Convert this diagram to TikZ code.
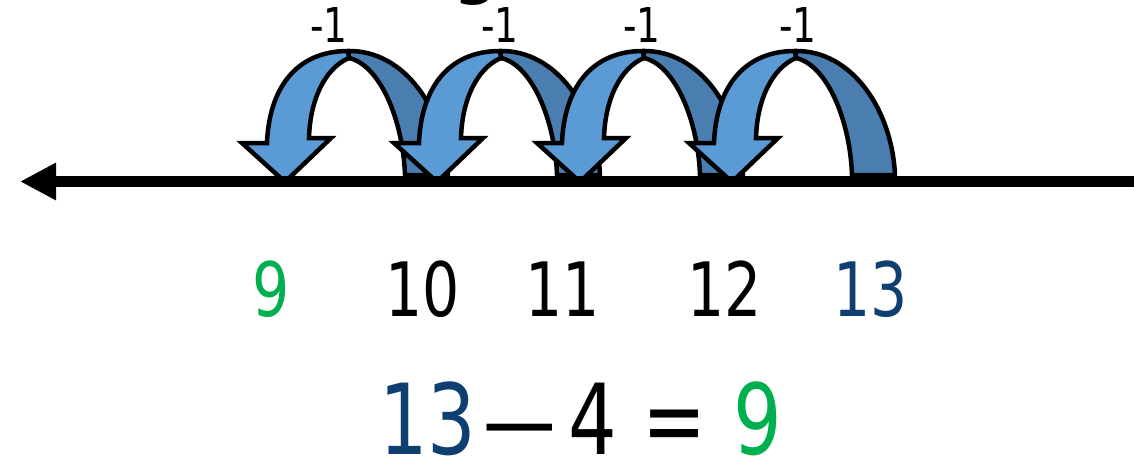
\documentclass[tikz,border=0pt]{standalone}
\usepackage{fontspec}
\setmainfont{DejaVu Sans}
\usetikzlibrary{arrows.meta}
\definecolor{jumplight}{HTML}{5B9BD5}
\definecolor{jumpdark}{HTML}{4A7EB0}
\definecolor{numgreen}{HTML}{00B050}
\definecolor{numblue}{HTML}{0F3F70}
\newcommand\narrowtxt[1]{\scalebox{0.78}[1]{#1}}
\tikzset{
  numline/.style={line width=11.5pt, -{Triangle[length=36pt,width=35pt]}},
  lightface/.style={fill=jumplight, draw=black, line width=4.5pt, line join=miter, miter limit=4},
  darkface/.style={fill=jumpdark, draw=black, line width=4.5pt, line join=round},
  jumplabel/.style={font=\fontsize{48}{48}\selectfont, anchor=base, inner sep=0pt},
  ticklabel/.style={font=\fontsize{75}{75}\selectfont, anchor=base, inner sep=0pt},
  eqlabel/.style={font=\fontsize{98}{98}\selectfont, anchor=base, inner sep=0pt},
}
\newcommand\jumparrow[2]{%
  \begin{scope}[shift={(#1,0)}]
    \coordinate (#2) at (0,182);
    \draw[darkface] (64,58) -- (63,51) .. controls (120,50) and (160,110) .. (163,175)
      -- (120,175) .. controls (118,120) and (95,65) .. (64,58) -- cycle;
    \draw[lightface] (#2) -- (-43,143) -- (-18,143) .. controls (-16,90) and (10,51) .. (63,51)
      -- (64,58) .. controls (40,68) and (25,100) .. (24,138) -- (46,138) -- cycle;
  \end{scope}}
\begin{document}
\begin{tikzpicture}[x=1pt,y=-1pt]
\useasboundingbox (0,0) rectangle (1134,460);
% fragment of a cut-off title
\begin{scope}
  \clip (0,0) rectangle (1134,460);
  \node[font=\bfseries\fontsize{60}{60}\selectfont, anchor=base, inner sep=0pt] (title) at (476,-7) {g};
\end{scope}
% jumps
\jumparrow{285}{tip9}
\jumparrow{437}{tip10}
\jumparrow{580}{tip11}
\jumparrow{732}{tip12}
% number line
\coordinate (lineR) at (1134,181.5);
\coordinate (lineL) at (20,181.5);
\draw[numline] (lineR) -- (lineL);
% jump labels
\node[jumplabel] (j1) at (329,42) {\narrowtxt{-1}};
\node[jumplabel] (j2) at (500,42) {\narrowtxt{-1}};
\node[jumplabel] (j3) at (642,42) {\narrowtxt{-1}};
\node[jumplabel] (j4) at (798,42) {\narrowtxt{-1}};
% tick labels
\node[ticklabel, text=numgreen] (n9) at (271,316) {\narrowtxt{9}};
\node[ticklabel] (n10) at (423,316) {\narrowtxt{10}};
\node[ticklabel] (n11) at (563,316) {\narrowtxt{11}};
\node[ticklabel] (n12) at (725,316) {\narrowtxt{12}};
\node[ticklabel, text=numblue] (n13) at (871,316) {\narrowtxt{13}};
% equation
\node[eqlabel, text=numblue] (e13) at (428,454) {\narrowtxt{13}};
\node[eqlabel] (edash) at (520,454) {\scalebox{0.74}[1]{—}};
\node[eqlabel] (e4) at (593,454) {\narrowtxt{4}};
\node[eqlabel] (eeq) at (675,454) {\narrowtxt{=}};
\node[eqlabel, text=numgreen] (e9) at (758,454) {\narrowtxt{9}};
\end{tikzpicture}
\end{document}
